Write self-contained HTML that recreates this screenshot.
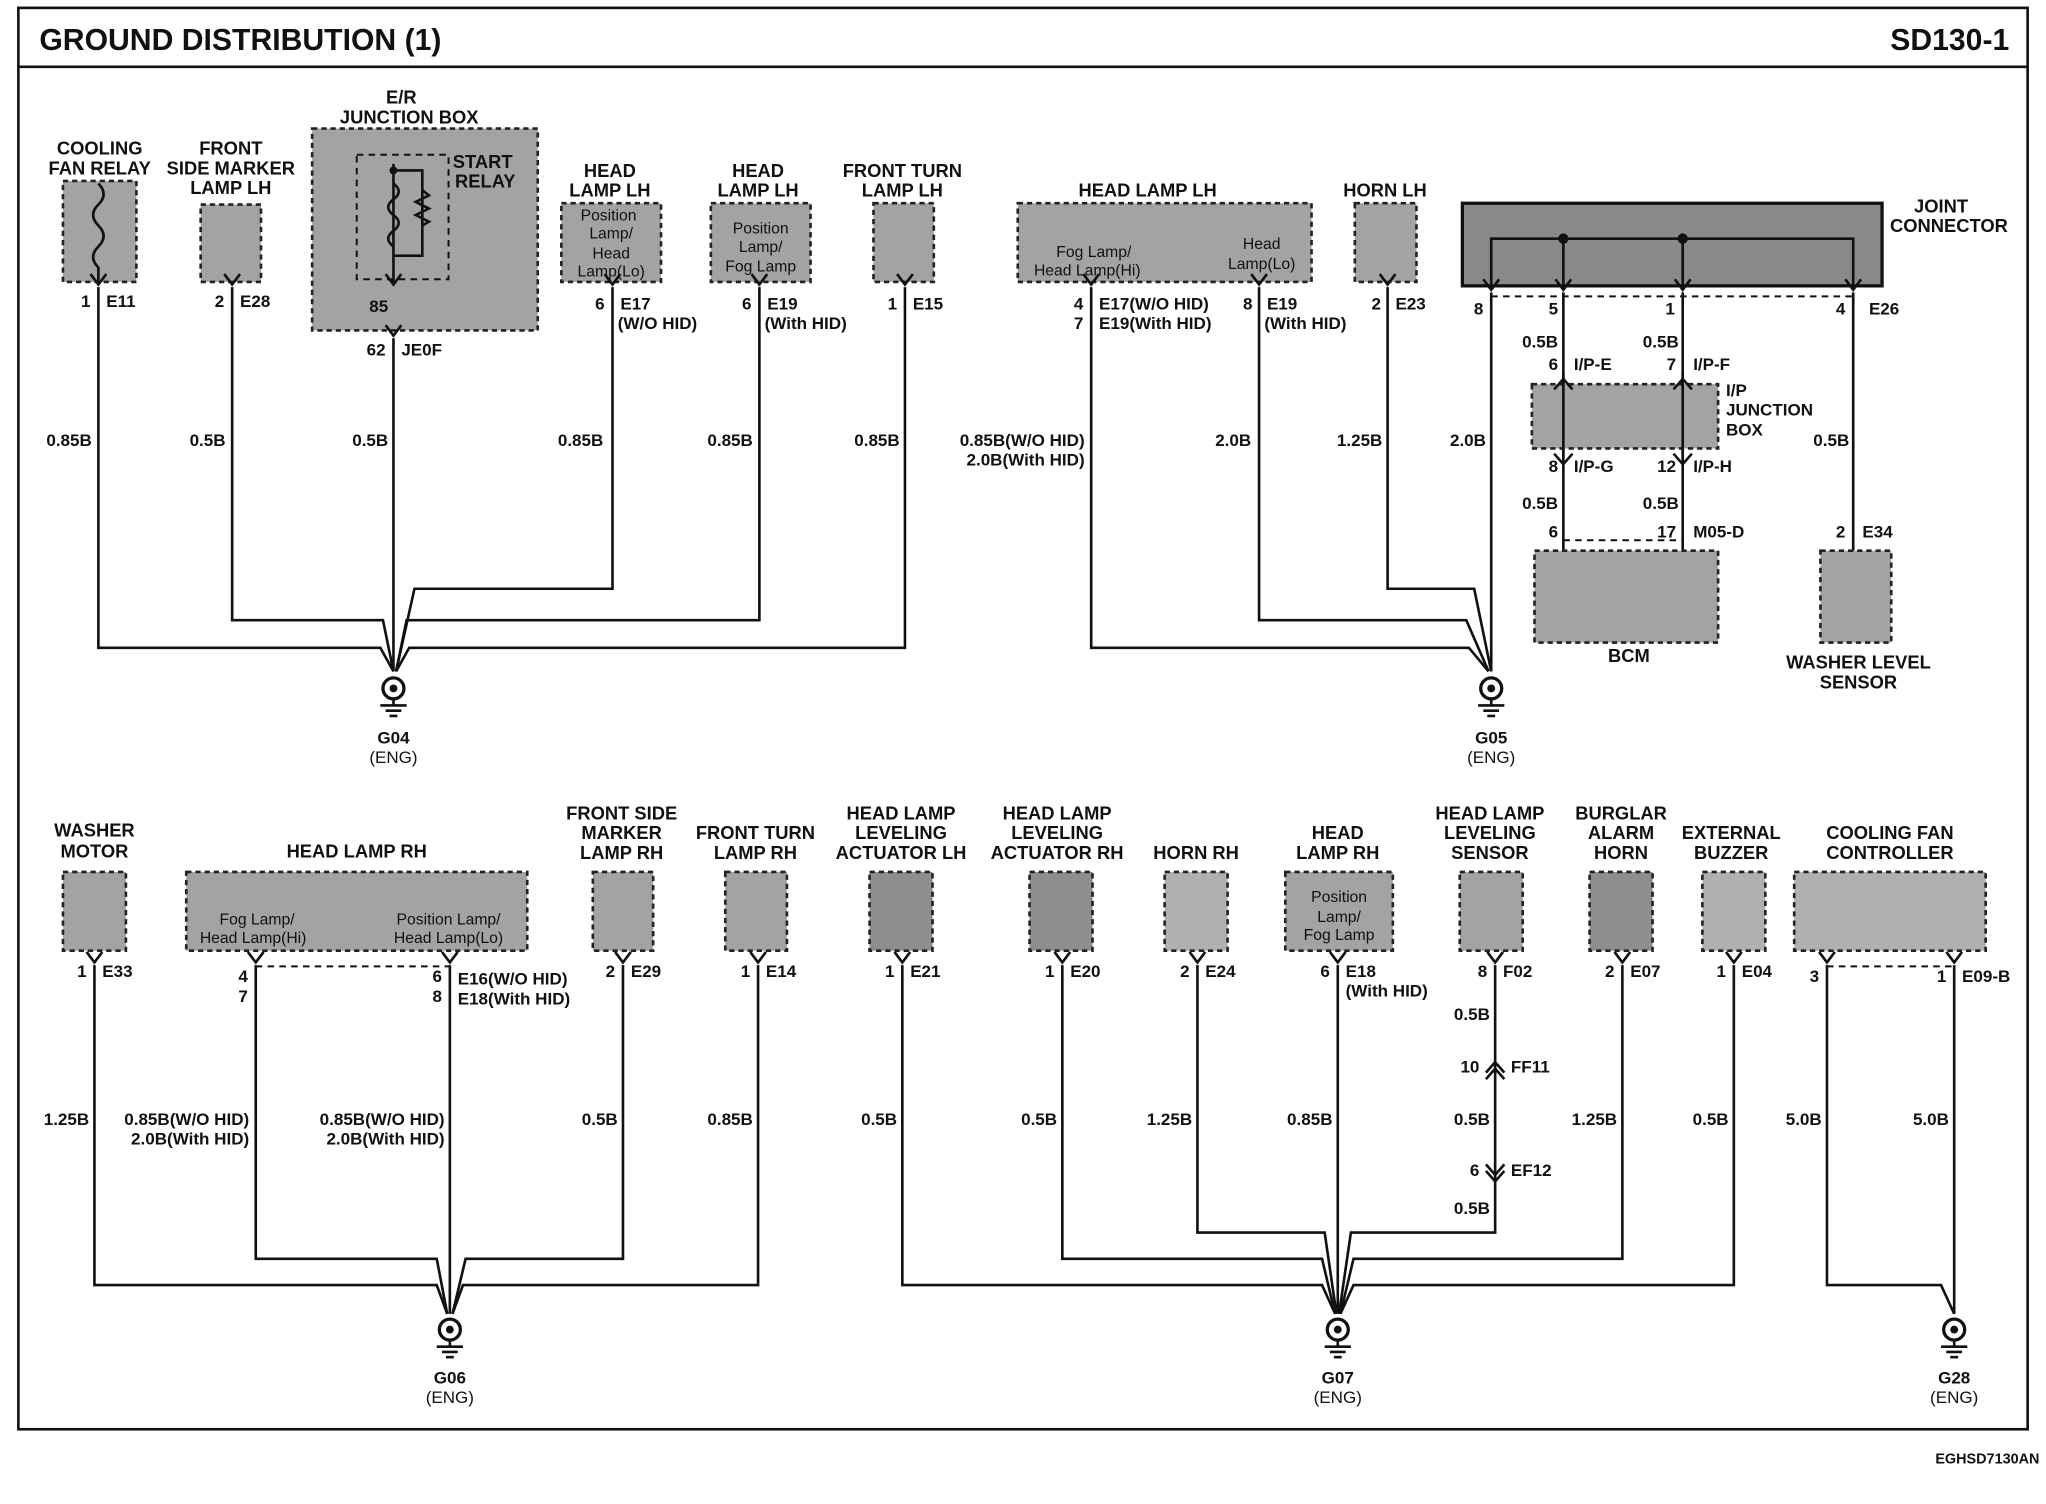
<!DOCTYPE html>
<html><head><meta charset="utf-8"><style>
html,body{margin:0;padding:0;background:#fff;}
svg{display:block;}
text{font-family:"Liberation Sans",Arial,sans-serif;font-weight:bold;fill:#111;}
.n{font-size:14px;text-anchor:middle;}
.p{font-size:13px;}
.r{text-anchor:end;}
.bx{fill:#a3a3a3;stroke:#222;stroke-width:2;stroke-dasharray:4 3;}
.w{fill:none;stroke:#111;stroke-width:2;}
.d{fill:none;stroke:#111;stroke-width:1.5;stroke-dasharray:5 4;}
.in{font-size:12px;font-weight:normal;text-anchor:middle;}
</style></head><body>
<svg width="2046" height="1504" viewBox="0 0 1560 1147" preserveAspectRatio="none" xmlns="http://www.w3.org/2000/svg">
<defs>
<g id="gnd"><circle cx="0" cy="0" r="8" fill="#fff" stroke="#111" stroke-width="2.5"/><circle cx="0" cy="0" r="3" fill="#111"/><line x1="0" y1="8" x2="0" y2="13" stroke="#111" stroke-width="2"/><line x1="-10" y1="13" x2="10" y2="13" stroke="#111" stroke-width="2"/><line x1="-6" y1="17" x2="6" y2="17" stroke="#111" stroke-width="2"/><line x1="-3" y1="21" x2="3" y2="21" stroke="#111" stroke-width="2"/></g>
<g id="pin"><path d="M-6,-8 L0,0 L6,-8" fill="none" stroke="#111" stroke-width="2"/></g>
</defs>
<rect x="14" y="6" width="1532" height="1084" fill="none" stroke="#111" stroke-width="2"/>
<line x1="14" y1="51" x2="1546" y2="51" stroke="#111" stroke-width="2"/>
<text x="30" y="38" style="font-size:23px">GROUND DISTRIBUTION (1)</text>
<text x="1532" y="38" style="font-size:23px;text-anchor:end">SD130-1</text>
<text x="1555" y="1116" style="font-size:11px;text-anchor:end">EGHSD7130AN</text>

<!-- ===== TOP LEFT ===== -->
<text class="n" x="76" y="118">COOLING</text><text class="n" x="76" y="133">FAN RELAY</text>
<rect class="bx" x="48" y="138" width="56" height="77"/>
<path class="w" d="M75,140 q8,8 0,16 q-8,8 0,16 q8,8 0,16 q-8,8 0,16 L75,215"/>
<text class="n" x="176" y="118">FRONT</text><text class="n" x="176" y="133">SIDE MARKER</text><text class="n" x="176" y="148">LAMP LH</text>
<rect class="bx" x="153" y="156" width="46" height="59"/>
<text class="n" x="306" y="79">E/R</text><text class="n" x="312" y="94">JUNCTION BOX</text>
<rect class="bx" x="238" y="98" width="172" height="154"/>
<rect class="d" x="272" y="118" width="70" height="95"/>
<text class="n" x="368" y="128">START</text><text class="n" x="370" y="143">RELAY</text>
<path class="w" d="M300,125 L300,215 M300,130 L322,130 L322,195 L300,195"/>
<path class="w" d="M300,140 q8,6 0,12 q-8,6 0,12 q8,6 0,12 q-8,6 0,12"/>
<path class="w" d="M322,145 l5,4 -10,5 10,5 -10,5 10,5 -5,3"/>
<circle cx="300" cy="130" r="3" fill="#111"/>
<text class="n" x="465" y="135">HEAD</text><text class="n" x="465" y="150">LAMP LH</text>
<rect class="bx" x="428" y="155" width="76" height="60"/>
<text class="in" x="464" y="168">Position</text><text class="in" x="466" y="182">Lamp/</text><text class="in" x="466" y="197">Head</text><text class="in" x="466" y="211">Lamp(Lo)</text>
<text class="n" x="578" y="135">HEAD</text><text class="n" x="578" y="150">LAMP LH</text>
<rect class="bx" x="542" y="155" width="76" height="60"/>
<text class="in" x="580" y="178">Position</text><text class="in" x="580" y="192">Lamp/</text><text class="in" x="580" y="207">Fog Lamp</text>
<text class="n" x="688" y="135">FRONT TURN</text><text class="n" x="688" y="150">LAMP LH</text>
<rect class="bx" x="666" y="155" width="46" height="60"/>

<g transform="translate(75,217)"><use href="#pin"/></g>
<g transform="translate(177,217)"><use href="#pin"/></g>
<g transform="translate(300,217)"><use href="#pin"/></g>
<g transform="translate(300,256)"><use href="#pin"/></g>
<g transform="translate(467,217)"><use href="#pin"/></g>
<g transform="translate(579,217)"><use href="#pin"/></g>
<g transform="translate(690,217)"><use href="#pin"/></g>
<text class="p r" x="69" y="234">1</text><text class="p" x="81" y="234">E11</text>
<text class="p r" x="171" y="234">2</text><text class="p" x="183" y="234">E28</text>
<text class="p r" x="296" y="238">85</text>
<text class="p r" x="294" y="271">62</text><text class="p" x="306" y="271">JE0F</text>
<text class="p r" x="461" y="236">6</text><text class="p" x="473" y="236">E17</text><text class="p" x="471" y="251">(W/O HID)</text>
<text class="p r" x="573" y="236">6</text><text class="p" x="585" y="236">E19</text><text class="p" x="583" y="251">(With HID)</text>
<text class="p r" x="684" y="236">1</text><text class="p" x="696" y="236">E15</text>

<path class="w" d="M75,219 V494 H290 L300,512"/>
<path class="w" d="M177,219 V473 H292 L300,512"/>
<path class="w" d="M300,258 V512"/>
<path class="w" d="M467,219 V449 H316 L302,512"/>
<path class="w" d="M579,219 V473 H310 L302,512"/>
<path class="w" d="M690,219 V494 H312 L302,512"/>
<text class="p r" x="70" y="340">0.85B</text>
<text class="p r" x="172" y="340">0.5B</text>
<text class="p r" x="296" y="340">0.5B</text>
<text class="p r" x="460" y="340">0.85B</text>
<text class="p r" x="574" y="340">0.85B</text>
<text class="p r" x="686" y="340">0.85B</text>
<g transform="translate(300,525)"><use href="#gnd"/></g>
<text class="p" x="300" y="567" style="text-anchor:middle">G04</text>
<text class="p" x="300" y="582" style="text-anchor:middle;font-weight:normal">(ENG)</text>

<!-- ===== TOP RIGHT ===== -->
<text class="n" x="875" y="150">HEAD LAMP LH</text>
<rect class="bx" x="776" y="155" width="224" height="60"/>
<text class="in" x="834" y="196">Fog Lamp/</text><text class="in" x="829" y="210">Head Lamp(Hi)</text>
<text class="in" x="962" y="190">Head</text><text class="in" x="962" y="205">Lamp(Lo)</text>
<text class="n" x="1056" y="150">HORN LH</text>
<rect class="bx" x="1033" y="155" width="47" height="60"/>
<text class="n" x="1480" y="162">JOINT</text><text class="n" x="1486" y="177">CONNECTOR</text>
<rect x="1115" y="155" width="320" height="63" fill="#8a8a8a" stroke="#111" stroke-width="2.5"/>
<path class="w" d="M1137,218 V182 H1413 V218 M1192,180 V218 M1283,180 V218"/>
<circle cx="1192" cy="182" r="4" fill="#111"/><circle cx="1283" cy="182" r="4" fill="#111"/>
<g transform="translate(832,217)"><use href="#pin"/></g>
<g transform="translate(960,217)"><use href="#pin"/></g>
<g transform="translate(1058,217)"><use href="#pin"/></g>
<g transform="translate(1137,221)"><use href="#pin"/></g>
<g transform="translate(1192,221)"><use href="#pin"/></g>
<g transform="translate(1283,221)"><use href="#pin"/></g>
<g transform="translate(1413,221)"><use href="#pin"/></g>
<path class="d" d="M1137,226 H1413"/>
<text class="p r" x="826" y="236">4</text><text class="p" x="838" y="236">E17(W/O HID)</text>
<text class="p r" x="826" y="251">7</text><text class="p" x="838" y="251">E19(With HID)</text>
<text class="p r" x="955" y="236">8</text><text class="p" x="966" y="236">E19</text><text class="p" x="964" y="251">(With HID)</text>
<text class="p r" x="1053" y="236">2</text><text class="p" x="1064" y="236">E23</text>
<text class="p r" x="1131" y="240">8</text>
<text class="p r" x="1188" y="240">5</text>
<text class="p r" x="1277" y="240">1</text>
<text class="p r" x="1407" y="240">4</text><text class="p" x="1425" y="240">E26</text>
<path class="w" d="M832,219 V494 H1120 L1135,512"/>
<path class="w" d="M960,219 V473 H1118 L1135,512"/>
<path class="w" d="M1058,219 V449 H1124 L1137,512"/>
<path class="w" d="M1137,223 V512"/>
<text class="p r" x="827" y="340">0.85B(W/O HID)</text>
<text class="p r" x="827" y="355">2.0B(With HID)</text>
<text class="p r" x="954" y="340">2.0B</text>
<text class="p r" x="1054" y="340">1.25B</text>
<text class="p r" x="1133" y="340">2.0B</text>
<g transform="translate(1137,525)"><use href="#gnd"/></g>
<text class="p" x="1137" y="567" style="text-anchor:middle">G05</text>
<text class="p" x="1137" y="582" style="text-anchor:middle;font-weight:normal">(ENG)</text>

<!-- IP junction & BCM -->
<path class="w" d="M1192,223 V420 M1283,223 V420 M1413,223 V420"/>
<rect class="bx" x="1168" y="293" width="142" height="49"/>
<path class="w" d="M1192,285 V350 M1283,285 V350"/>
<path d="M1185,297 L1192,289 L1199,297 M1276,297 L1283,289 L1290,297" fill="none" stroke="#111" stroke-width="2"/>
<path d="M1185,346 L1192,354 L1199,346 M1276,346 L1283,354 L1290,346" fill="none" stroke="#111" stroke-width="2"/>
<text class="p r" x="1188" y="265">0.5B</text><text class="p r" x="1280" y="265">0.5B</text>
<text class="p r" x="1188" y="282">6</text><text class="p" x="1200" y="282">I/P-E</text>
<text class="p r" x="1278" y="282">7</text><text class="p" x="1291" y="282">I/P-F</text>
<text class="p" x="1316" y="302">I/P</text><text class="p" x="1316" y="317">JUNCTION</text><text class="p" x="1316" y="332">BOX</text>
<text class="p r" x="1188" y="360">8</text><text class="p" x="1200" y="360">I/P-G</text>
<text class="p r" x="1278" y="360">12</text><text class="p" x="1291" y="360">I/P-H</text>
<text class="p r" x="1188" y="388">0.5B</text><text class="p r" x="1280" y="388">0.5B</text>
<text class="p r" x="1410" y="340">0.5B</text>
<text class="p r" x="1188" y="410">6</text>
<text class="p r" x="1278" y="410">17</text><text class="p" x="1291" y="410">M05-D</text>
<path class="d" d="M1192,412 H1283"/>
<rect class="bx" x="1170" y="420" width="140" height="70"/>
<text class="n" x="1242" y="505">BCM</text>
<text class="p r" x="1407" y="410">2</text><text class="p" x="1420" y="410">E34</text>
<rect class="bx" x="1388" y="420" width="54" height="70"/>
<text class="n" x="1417" y="510">WASHER LEVEL</text><text class="n" x="1417" y="525">SENSOR</text>

<!-- ===== BOTTOM LEFT ===== -->
<text class="n" x="72" y="638">WASHER</text><text class="n" x="72" y="654">MOTOR</text>
<rect class="bx" x="48" y="665" width="48" height="60"/>
<text class="n" x="272" y="654">HEAD LAMP RH</text>
<rect class="bx" x="142" y="665" width="260" height="60"/>
<text class="in" x="196" y="705">Fog Lamp/</text><text class="in" x="193" y="719">Head Lamp(Hi)</text>
<text class="in" x="342" y="705">Position Lamp/</text><text class="in" x="342" y="719">Head Lamp(Lo)</text>
<text class="n" x="474" y="625">FRONT SIDE</text><text class="n" x="474" y="640">MARKER</text><text class="n" x="474" y="655">LAMP RH</text>
<rect class="bx" x="452" y="665" width="46" height="60"/>
<text class="n" x="576" y="640">FRONT TURN</text><text class="n" x="576" y="655">LAMP RH</text>
<rect class="bx" x="553" y="665" width="47" height="60"/>
<g transform="translate(72,734)"><use href="#pin"/></g>
<g transform="translate(195,734)"><use href="#pin"/></g>
<g transform="translate(343,734)"><use href="#pin"/></g>
<g transform="translate(475,734)"><use href="#pin"/></g>
<g transform="translate(578,734)"><use href="#pin"/></g>
<path class="d" d="M195,737 H343"/>
<text class="p r" x="66" y="745">1</text><text class="p" x="78" y="745">E33</text>
<text class="p r" x="189" y="749">4</text><text class="p r" x="189" y="764">7</text>
<text class="p r" x="337" y="749">6</text><text class="p" x="349" y="751">E16(W/O HID)</text>
<text class="p r" x="337" y="764">8</text><text class="p" x="349" y="766">E18(With HID)</text>
<text class="p r" x="469" y="745">2</text><text class="p" x="481" y="745">E29</text>
<text class="p r" x="572" y="745">1</text><text class="p" x="584" y="745">E14</text>
<path class="w" d="M72,736 V980 H333 L341,1002"/>
<path class="w" d="M195,736 V960 H333 L341,1002"/>
<path class="w" d="M343,736 V1002"/>
<path class="w" d="M475,736 V960 H355 L345,1002"/>
<path class="w" d="M578,736 V980 H353 L345,1002"/>
<text class="p r" x="68" y="858">1.25B</text>
<text class="p r" x="190" y="858">0.85B(W/O HID)</text><text class="p r" x="190" y="873">2.0B(With HID)</text>
<text class="p r" x="339" y="858">0.85B(W/O HID)</text><text class="p r" x="339" y="873">2.0B(With HID)</text>
<text class="p r" x="471" y="858">0.5B</text>
<text class="p r" x="574" y="858">0.85B</text>
<g transform="translate(343,1014)"><use href="#gnd"/></g>
<text class="p" x="343" y="1055" style="text-anchor:middle">G06</text>
<text class="p" x="343" y="1070" style="text-anchor:middle;font-weight:normal">(ENG)</text>

<!-- ===== BOTTOM RIGHT ===== -->
<text class="n" x="687" y="625">HEAD LAMP</text><text class="n" x="687" y="640">LEVELING</text><text class="n" x="687" y="655">ACTUATOR LH</text>
<rect class="bx" x="663" y="665" width="48" height="60" style="fill:#8e8e8e"/>
<text class="n" x="806" y="625">HEAD LAMP</text><text class="n" x="806" y="640">LEVELING</text><text class="n" x="806" y="655">ACTUATOR RH</text>
<rect class="bx" x="785" y="665" width="48" height="60" style="fill:#8e8e8e"/>
<text class="n" x="912" y="655">HORN RH</text>
<rect class="bx" x="888" y="665" width="48" height="60" style="fill:#b0b0b0"/>
<text class="n" x="1020" y="640">HEAD</text><text class="n" x="1020" y="655">LAMP RH</text>
<rect class="bx" x="980" y="665" width="82" height="60"/>
<text class="in" x="1021" y="688">Position</text><text class="in" x="1021" y="703">Lamp/</text><text class="in" x="1021" y="717">Fog Lamp</text>
<text class="n" x="1136" y="625">HEAD LAMP</text><text class="n" x="1136" y="640">LEVELING</text><text class="n" x="1136" y="655">SENSOR</text>
<rect class="bx" x="1113" y="665" width="48" height="60"/>
<text class="n" x="1236" y="625">BURGLAR</text><text class="n" x="1236" y="640">ALARM</text><text class="n" x="1236" y="655">HORN</text>
<rect class="bx" x="1212" y="665" width="48" height="60" style="fill:#8e8e8e"/>
<text class="n" x="1320" y="640">EXTERNAL</text><text class="n" x="1320" y="655">BUZZER</text>
<rect class="bx" x="1298" y="665" width="48" height="60" style="fill:#b0b0b0"/>
<text class="n" x="1441" y="640">COOLING FAN</text><text class="n" x="1441" y="655">CONTROLLER</text>
<rect class="bx" x="1368" y="665" width="146" height="60" style="fill:#b0b0b0"/>

<g transform="translate(688,734)"><use href="#pin"/></g>
<g transform="translate(810,734)"><use href="#pin"/></g>
<g transform="translate(913,734)"><use href="#pin"/></g>
<g transform="translate(1020,734)"><use href="#pin"/></g>
<g transform="translate(1140,734)"><use href="#pin"/></g>
<g transform="translate(1237,734)"><use href="#pin"/></g>
<g transform="translate(1322,734)"><use href="#pin"/></g>
<g transform="translate(1393,734)"><use href="#pin"/></g>
<g transform="translate(1490,734)"><use href="#pin"/></g>
<path class="d" d="M1393,737 H1490"/>
<text class="p r" x="682" y="745">1</text><text class="p" x="694" y="745">E21</text>
<text class="p r" x="804" y="745">1</text><text class="p" x="816" y="745">E20</text>
<text class="p r" x="907" y="745">2</text><text class="p" x="919" y="745">E24</text>
<text class="p r" x="1014" y="745">6</text><text class="p" x="1026" y="745">E18</text><text class="p" x="1026" y="760">(With HID)</text>
<text class="p r" x="1134" y="745">8</text><text class="p" x="1146" y="745">F02</text>
<text class="p r" x="1231" y="745">2</text><text class="p" x="1243" y="745">E07</text>
<text class="p r" x="1316" y="745">1</text><text class="p" x="1328" y="745">E04</text>
<text class="p r" x="1387" y="749">3</text>
<text class="p r" x="1484" y="749">1</text><text class="p" x="1496" y="749">E09-B</text>

<path class="w" d="M688,736 V980 H1008 L1018,1002"/>
<path class="w" d="M810,736 V960 H1008 L1018,1002"/>
<path class="w" d="M913,736 V940 H1010 L1019,1002"/>
<path class="w" d="M1020,736 V1002"/>
<path class="w" d="M1140,736 V940 H1030 L1021,1002"/>
<path class="w" d="M1237,736 V960 H1032 L1022,1002"/>
<path class="w" d="M1322,736 V980 H1032 L1022,1002"/>
<path class="w" d="M1393,736 V980 H1480 L1490,1002"/>
<path class="w" d="M1490,736 V1002"/>
<path d="M1133,818 L1140,810 L1147,818 M1133,823 L1140,815 L1147,823" fill="none" stroke="#111" stroke-width="2"/>
<path d="M1133,888 L1140,896 L1147,888 M1133,893 L1140,901 L1147,893" fill="none" stroke="#111" stroke-width="2"/>
<text class="p r" x="1136" y="778">0.5B</text>
<text class="p r" x="1128" y="818">10</text><text class="p" x="1152" y="818">FF11</text>
<text class="p r" x="1136" y="858">0.5B</text>
<text class="p r" x="1128" y="897">6</text><text class="p" x="1152" y="897">EF12</text>
<text class="p r" x="1136" y="926">0.5B</text>
<text class="p r" x="684" y="858">0.5B</text>
<text class="p r" x="806" y="858">0.5B</text>
<text class="p r" x="909" y="858">1.25B</text>
<text class="p r" x="1016" y="858">0.85B</text>
<text class="p r" x="1233" y="858">1.25B</text>
<text class="p r" x="1318" y="858">0.5B</text>
<text class="p r" x="1389" y="858">5.0B</text>
<text class="p r" x="1486" y="858">5.0B</text>
<g transform="translate(1020,1014)"><use href="#gnd"/></g>
<text class="p" x="1020" y="1055" style="text-anchor:middle">G07</text>
<text class="p" x="1020" y="1070" style="text-anchor:middle;font-weight:normal">(ENG)</text>
<g transform="translate(1490,1014)"><use href="#gnd"/></g>
<text class="p" x="1490" y="1055" style="text-anchor:middle">G28</text>
<text class="p" x="1490" y="1070" style="text-anchor:middle;font-weight:normal">(ENG)</text>
</svg>
</body></html>
